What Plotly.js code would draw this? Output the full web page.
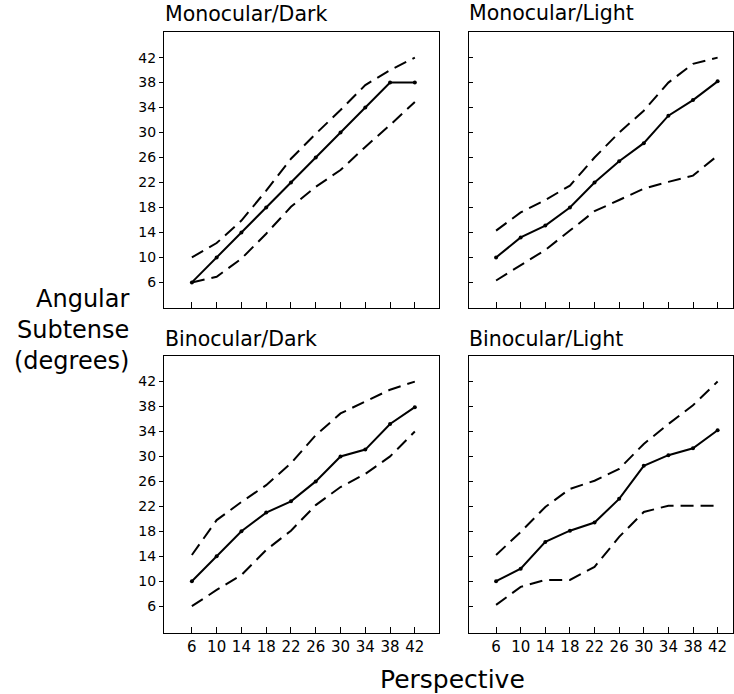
<!DOCTYPE html>
<html>
<head>
<meta charset="utf-8">
<script src="https://cdn.plot.ly/plotly-3.0.1.min.js"></script>
<style>html,body{margin:0;padding:0;background:#fff;}</style>
</head>
<body>
<div id="chart" style="width:734px;height:694px;"></div>
<script>
const perspective = [6, 10, 14, 18, 22, 26, 30, 34, 38, 42];
const tickVals = [6, 10, 14, 18, 22, 26, 30, 34, 38, 42];

const monoDarkMean  = [6, 10, 14, 18, 22, 26, 30, 34, 38, 38];
const monoDarkUpper = [10, 12.3, 15.9, 20.7, 25.8, 29.8, 33.6, 37.6, 40, 42];
const monoDarkLower = [6, 6.9, 9.8, 13.8, 18.1, 21.3, 24, 27.7, 31.2, 34.9];

const monoLightMean  = [10, 13.2, 15.1, 18, 22, 25.4, 28.3, 32.7, 35.2, 38.2];
const monoLightUpper = [14.3, 17.2, 19.2, 21.5, 26, 30, 33.5, 38, 41, 42];
const monoLightLower = [6.3, 8.8, 11.2, 14.3, 17.4, 19.2, 21, 22.1, 23.1, 26.3];

const binoDarkMean  = [10, 14, 18, 21, 22.8, 26, 30, 31.1, 35.2, 37.9];
const binoDarkUpper = [14.2, 19.8, 22.7, 25.4, 28.9, 33.4, 36.9, 38.8, 40.7, 42];
const binoDarkLower = [6, 8.6, 11, 15, 18.1, 22.2, 25.1, 27.2, 30, 34];

const binoLightMean  = [10, 12, 16.3, 18.1, 19.4, 23.2, 28.5, 30.2, 31.3, 34.2];
const binoLightUpper = [14.2, 17.9, 21.9, 24.8, 26.1, 28, 32, 35.2, 38.2, 42];
const binoLightLower = [6.2, 9.1, 10.2, 10.2, 12.3, 17.1, 21.1, 22.1, 22.1, 22.1];

const panelTitles = ["Monocular/Dark", "Monocular/Light", "Binocular/Dark", "Binocular/Light"];

const FONT = "DejaVu Sans, Liberation Sans, Arial, sans-serif";

function meanTrace(y, xa, ya) {
  return {x: perspective, y: y, xaxis: xa, yaxis: ya, type: 'scatter', mode: 'lines+markers',
    line: {color: '#000', width: 2}, marker: {color: '#000', size: 4}, showlegend: false, hoverinfo: 'skip'};
}
function dashTrace(y, xa, ya) {
  return {x: perspective, y: y, xaxis: xa, yaxis: ya, type: 'scatter', mode: 'lines',
    line: {color: '#000', width: 2, dash: '13px,7px'}, showlegend: false, hoverinfo: 'skip'};
}

const data = [
  dashTrace(monoDarkUpper, 'x', 'y'), dashTrace(monoDarkLower, 'x', 'y'), meanTrace(monoDarkMean, 'x', 'y'),
  dashTrace(monoLightUpper, 'x2', 'y2'), dashTrace(monoLightLower, 'x2', 'y2'), meanTrace(monoLightMean, 'x2', 'y2'),
  dashTrace(binoDarkUpper, 'x3', 'y3'), dashTrace(binoDarkLower, 'x3', 'y3'), meanTrace(binoDarkMean, 'x3', 'y3'),
  dashTrace(binoLightUpper, 'x4', 'y4'), dashTrace(binoLightLower, 'x4', 'y4'), meanTrace(binoLightMean, 'x4', 'y4')
];

const W = 734, H = 694;
const leftDom = [164 / W, 439 / W];
const rightDom = [469 / W, 733 / W];
const topDom = [(H - 308) / H, (H - 32) / H];
const botDom = [(H - 633) / H, (H - 356) / H];

function xax(dom, anchor, range, showLabels) {
  return {domain: dom, anchor: anchor, range: range, tickmode: 'array', tickvals: tickVals,
    ticktext: tickVals.map(String), showticklabels: showLabels, ticks: 'inside', ticklen: 6,
    tickcolor: '#000', tickwidth: 1, showline: true, linecolor: '#000', linewidth: 1, mirror: true,
    showgrid: false, zeroline: false, tickfont: {family: FONT, size: 15, color: '#000'}, fixedrange: true};
}
function yax(dom, anchor, range, showLabels) {
  return {domain: dom, anchor: anchor, range: range, tickmode: 'array', tickvals: tickVals,
    ticktext: tickVals.map(String), showticklabels: showLabels, ticks: showLabels ? 'outside' : 'inside', ticklen: 4,
    tickcolor: '#000', tickwidth: 1, showline: true, linecolor: '#000', linewidth: 1, mirror: true,
    showgrid: false, zeroline: false, tickfont: {family: FONT, size: 14, color: '#000'}, fixedrange: true};
}

const layout = {
  width: W, height: H,
  margin: {l: 0, r: 0, t: 0, b: 0},
  paper_bgcolor: '#fff', plot_bgcolor: '#fff',
  showlegend: false,
  xaxis: xax(leftDom, 'y', [1.5, 45.9], false),
  yaxis: yax(topDom, 'x', [1.9, 46.1], true),
  xaxis2: xax(rightDom, 'y2', [1.6, 44.5], false),
  yaxis2: yax(topDom, 'x2', [1.9, 46.1], false),
  xaxis3: xax(leftDom, 'y3', [1.5, 45.9], true),
  yaxis3: yax(botDom, 'x3', [1.7, 46.1], true),
  xaxis4: xax(rightDom, 'y4', [1.6, 44.5], true),
  yaxis4: yax(botDom, 'x4', [1.7, 46.1], false),
  annotations: [
    {text: panelTitles[0], xref: 'paper', yref: 'paper', x: 163 / W, y: (H - 28) / H, xanchor: 'left', yanchor: 'bottom', showarrow: false, font: {family: FONT, size: 20.5, color: '#000'}},
    {text: panelTitles[1], xref: 'paper', yref: 'paper', x: 467 / W, y: (H - 27) / H, xanchor: 'left', yanchor: 'bottom', showarrow: false, font: {family: FONT, size: 20.5, color: '#000'}},
    {text: panelTitles[2], xref: 'paper', yref: 'paper', x: 163 / W, y: (H - 353) / H, xanchor: 'left', yanchor: 'bottom', showarrow: false, font: {family: FONT, size: 20.5, color: '#000'}},
    {text: panelTitles[3], xref: 'paper', yref: 'paper', x: 467 / W, y: (H - 353) / H, xanchor: 'left', yanchor: 'bottom', showarrow: false, font: {family: FONT, size: 20.5, color: '#000'}},
    {text: 'Angular<br>Subtense<br>(degrees)', xref: 'paper', yref: 'paper', x: 131 / W, y: (H - 330) / H, xanchor: 'right', yanchor: 'middle', align: 'right', showarrow: false, font: {family: FONT, size: 24, color: '#000'}},
    {text: 'Perspective', xref: 'paper', yref: 'paper', x: 453 / W, y: (H - 679) / H, xanchor: 'center', yanchor: 'middle', showarrow: false, font: {family: FONT, size: 25, color: '#000'}}
  ]
};

Plotly.newPlot('chart', data, layout, {staticPlot: true, displayModeBar: false});
</script>
</body>
</html>
